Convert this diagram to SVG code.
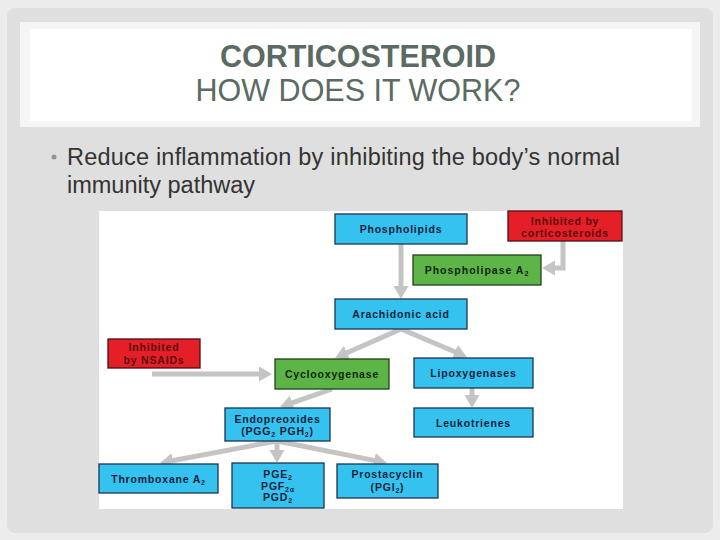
<svg xmlns="http://www.w3.org/2000/svg" width="720" height="540" viewBox="0 0 720 540">
<defs>
<style>
.t{font-family:"Liberation Sans",Arial,sans-serif;font-weight:bold;font-size:10.5px;letter-spacing:0.8px;text-anchor:middle}
.blue rect{fill:#36c2ee;stroke:#1b3553;stroke-width:1.3}
.green rect{fill:#5db548;stroke:#24401c;stroke-width:1.3}
.red rect{fill:#e41f27;stroke:#4a1010;stroke-width:1.3}
.blue text{fill:#0e1f3d}
.green text{fill:#10240e}
.red text{fill:#5a0c0e}
.c path{fill:none;stroke:#c4c4c4;stroke-width:5;marker-end:url(#ah)}
.sub{font-size:7px}
</style>
<marker id="ah" markerUnits="userSpaceOnUse" markerWidth="14" markerHeight="16" refX="1" refY="7.5" orient="auto">
<path d="M0,0 L13,7.5 L0,15 z" fill="#c4c4c4"/>
</marker>
</defs>
<rect width="720" height="540" fill="#ececec"/>
<rect x="7" y="8" width="706" height="525" rx="8" fill="#dfdfdf"/>
<rect x="20" y="22" width="680" height="105" fill="#f5f5f5"/>
<rect x="30" y="29" width="662" height="92" fill="#ffffff"/>
<text x="358" y="67" font-family="Liberation Sans,Arial,sans-serif" font-weight="bold" font-size="30.5" fill="#5b6a62" text-anchor="middle">CORTICOSTEROID</text>
<text x="358" y="101" font-family="Liberation Sans,Arial,sans-serif" font-size="30.5" fill="#5b6a62" text-anchor="middle">HOW DOES IT WORK?</text>
<circle cx="54" cy="157" r="2.5" fill="#8c9a92"/>
<text font-family="Liberation Sans,Arial,sans-serif" font-size="23.5" fill="#333333"><tspan x="67" y="165" textLength="553">Reduce inflammation by inhibiting the body’s normal</tspan><tspan x="67" y="193">immunity pathway</tspan></text>
<rect x="99" y="211" width="524" height="298" fill="#ffffff"/>
<g class="c" id="connectors">
<path d="M401,244 V287"/>
<path d="M563,241 V268 H554"/>
<path d="M401,329 L346,353.2"/>
<path d="M401,329 L455.9,352.3"/>
<path d="M152,374 H260"/>
<path d="M332,389 L291.3,403.1"/>
<path d="M472,388 V396"/>
<path d="M277,441 L171.8,460.8"/>
<path d="M277,441 V451"/>
<path d="M277,441 L375.2,460.6"/>
</g>
<g id="phospholipids" class="blue"><rect x="335" y="214" width="132" height="30"/><text class="t" x="401" y="233">Phospholipids</text></g>
<g id="inhibited-cort" class="red"><rect x="508" y="211" width="114" height="30"/><text class="t" x="565" y="225">Inhibited by</text><text class="t" x="565" y="237">corticosteroids</text></g>
<g id="phospholipase" class="green"><rect x="413" y="255" width="128" height="30"/><text class="t" x="477" y="274" style="letter-spacing:1px">Phospholipase A<tspan class="sub" dy="2">2</tspan></text></g>
<g id="arachidonic" class="blue"><rect x="335" y="299" width="132" height="30"/><text class="t" x="401" y="318">Arachidonic acid</text></g>
<g id="inhibited-nsaids" class="red"><rect x="108" y="339" width="92" height="29"/><text class="t" x="154" y="351">Inhibited</text><text class="t" x="154" y="364">by NSAIDs</text></g>
<g id="cyclooxygenase" class="green"><rect x="275" y="359" width="114" height="30"/><text class="t" x="332" y="378">Cyclooxygenase</text></g>
<g id="lipoxygenases" class="blue"><rect x="414" y="358" width="119" height="30"/><text class="t" x="473.5" y="377">Lipoxygenases</text></g>
<g id="leukotrienes" class="blue"><rect x="414" y="408" width="119" height="29"/><text class="t" x="473.5" y="427">Leukotrienes</text></g>
<g id="endopreoxides" class="blue"><rect x="225" y="408" width="105" height="33"/><text class="t" x="277.5" y="423">Endopreoxides</text><text class="t" x="277.5" y="435">(PGG<tspan class="sub" dy="2">2</tspan><tspan dy="-2"> PGH</tspan><tspan class="sub" dy="2">2</tspan><tspan dy="-2">)</tspan></text></g>
<g id="thromboxane" class="blue"><rect x="99" y="464" width="119" height="29"/><text class="t" x="158.5" y="483">Thromboxane A<tspan class="sub" dy="2">2</tspan></text></g>
<g id="pge2" class="blue"><rect x="232" y="463" width="92" height="45"/><text class="t" x="278" y="478">PGE<tspan class="sub" dy="2">2</tspan></text><text class="t" x="278" y="489.5">PGF<tspan class="sub" dy="2">2α</tspan></text><text class="t" x="278" y="501">PGD<tspan class="sub" dy="2">2</tspan></text></g>
<g id="prostacyclin" class="blue"><rect x="337" y="464" width="101" height="34"/><text class="t" x="387.5" y="478">Prostacyclin</text><text class="t" x="387.5" y="491">(PGI<tspan class="sub" dy="2">2</tspan><tspan dy="-2">)</tspan></text></g>
</svg>
